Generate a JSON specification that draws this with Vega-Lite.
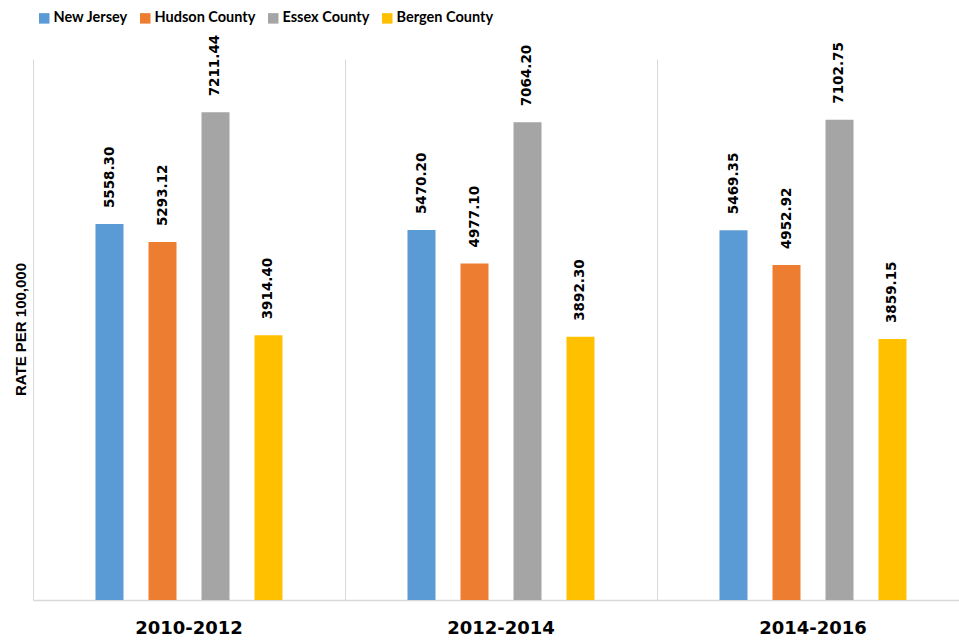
{
  "$schema": "https://vega.github.io/schema/vega-lite/v6.json",
  "autosize": "none",
  "padding": {"left": 33, "top": 59, "right": 0, "bottom": 43},
  "width": 926,
  "height": 541,
  "background": "white",
  "data": {
    "values": [
      {"period": "2010-2012", "area": "New Jersey", "rate": 5558.30},
      {"period": "2010-2012", "area": "Hudson County", "rate": 5293.12},
      {"period": "2010-2012", "area": "Essex County", "rate": 7211.44},
      {"period": "2010-2012", "area": "Bergen County", "rate": 3914.40},
      {"period": "2012-2014", "area": "New Jersey", "rate": 5470.20},
      {"period": "2012-2014", "area": "Hudson County", "rate": 4977.10},
      {"period": "2012-2014", "area": "Essex County", "rate": 7064.20},
      {"period": "2012-2014", "area": "Bergen County", "rate": 3892.30},
      {"period": "2014-2016", "area": "New Jersey", "rate": 5469.35},
      {"period": "2014-2016", "area": "Hudson County", "rate": 4952.92},
      {"period": "2014-2016", "area": "Essex County", "rate": 7102.75},
      {"period": "2014-2016", "area": "Bergen County", "rate": 3859.15}
    ]
  },
  "config": {
    "view": {"stroke": null},
    "axis": {"labelFont": "DejaVu Sans", "titleFont": "Liberation Sans"}
  },
  "encoding": {
    "x": {
      "field": "period", "type": "nominal",
      "scale": {"paddingInner": 0, "paddingOuter": 0, "range": [0, 936]},
      "axis": {
        "title": null, "labelAngle": 0, "bandPosition": 0, "grid": true,
        "gridColor": "#d9d9d9", "gridWidth": 1, "ticks": false,
        "domainColor": "#d9d9d9", "domainWidth": 1.5,
        "labelFontSize": 18, "labelFontWeight": "bold", "labelColor": "#000000",
        "labelPadding": 19, "labelFlush": false
      }
    },
    "xOffset": {
      "field": "area", "type": "nominal",
      "sort": ["New Jersey", "Hudson County", "Essex County", "Bergen County"],
      "scale": {"paddingInner": 0.113, "paddingOuter": 1}
    },
    "y": {
      "field": "rate", "type": "quantitative",
      "scale": {"domain": [0, 8000], "nice": false},
      "axis": {
        "title": "RATE PER 100,000", "labels": false, "ticks": false,
        "domain": false, "grid": false,
        "titleFontSize": 15, "titleFontWeight": "bold", "titleColor": "#000000",
        "titleX": -13, "titleY": 270, "titleAngle": 270,
        "titleAlign": "center", "titleBaseline": "middle"
      }
    }
  },
  "layer": [
    {
      "mark": {"type": "bar", "width": 28},
      "encoding": {
        "color": {
          "field": "area", "type": "nominal",
          "sort": ["New Jersey", "Hudson County", "Essex County", "Bergen County"],
          "scale": {
            "domain": ["New Jersey", "Hudson County", "Essex County", "Bergen County"],
            "range": ["#5b9bd5", "#ed7d31", "#a5a5a5", "#ffc000"]
          },
          "legend": {
            "title": null, "orient": "none", "direction": "horizontal",
            "legendX": 4, "legendY": -48,
            "symbolType": "square", "symbolSize": 110, "symbolStrokeWidth": 0,
            "labelFont": "Lato",
            "labelFontSize": 14.5, "labelFontWeight": "bold", "labelColor": "#000000",
            "labelOffset": 2, "columnPadding": 10
          }
        }
      }
    },
    {
      "mark": {
        "type": "text", "angle": 270, "align": "left", "baseline": "middle",
        "dx": 16, "font": "DejaVu Sans", "fontSize": 13.5, "fontWeight": "bold",
        "color": "#000000"
      },
      "encoding": {
        "text": {"field": "rate", "type": "quantitative", "format": ".2f"}
      }
    }
  ]
}
